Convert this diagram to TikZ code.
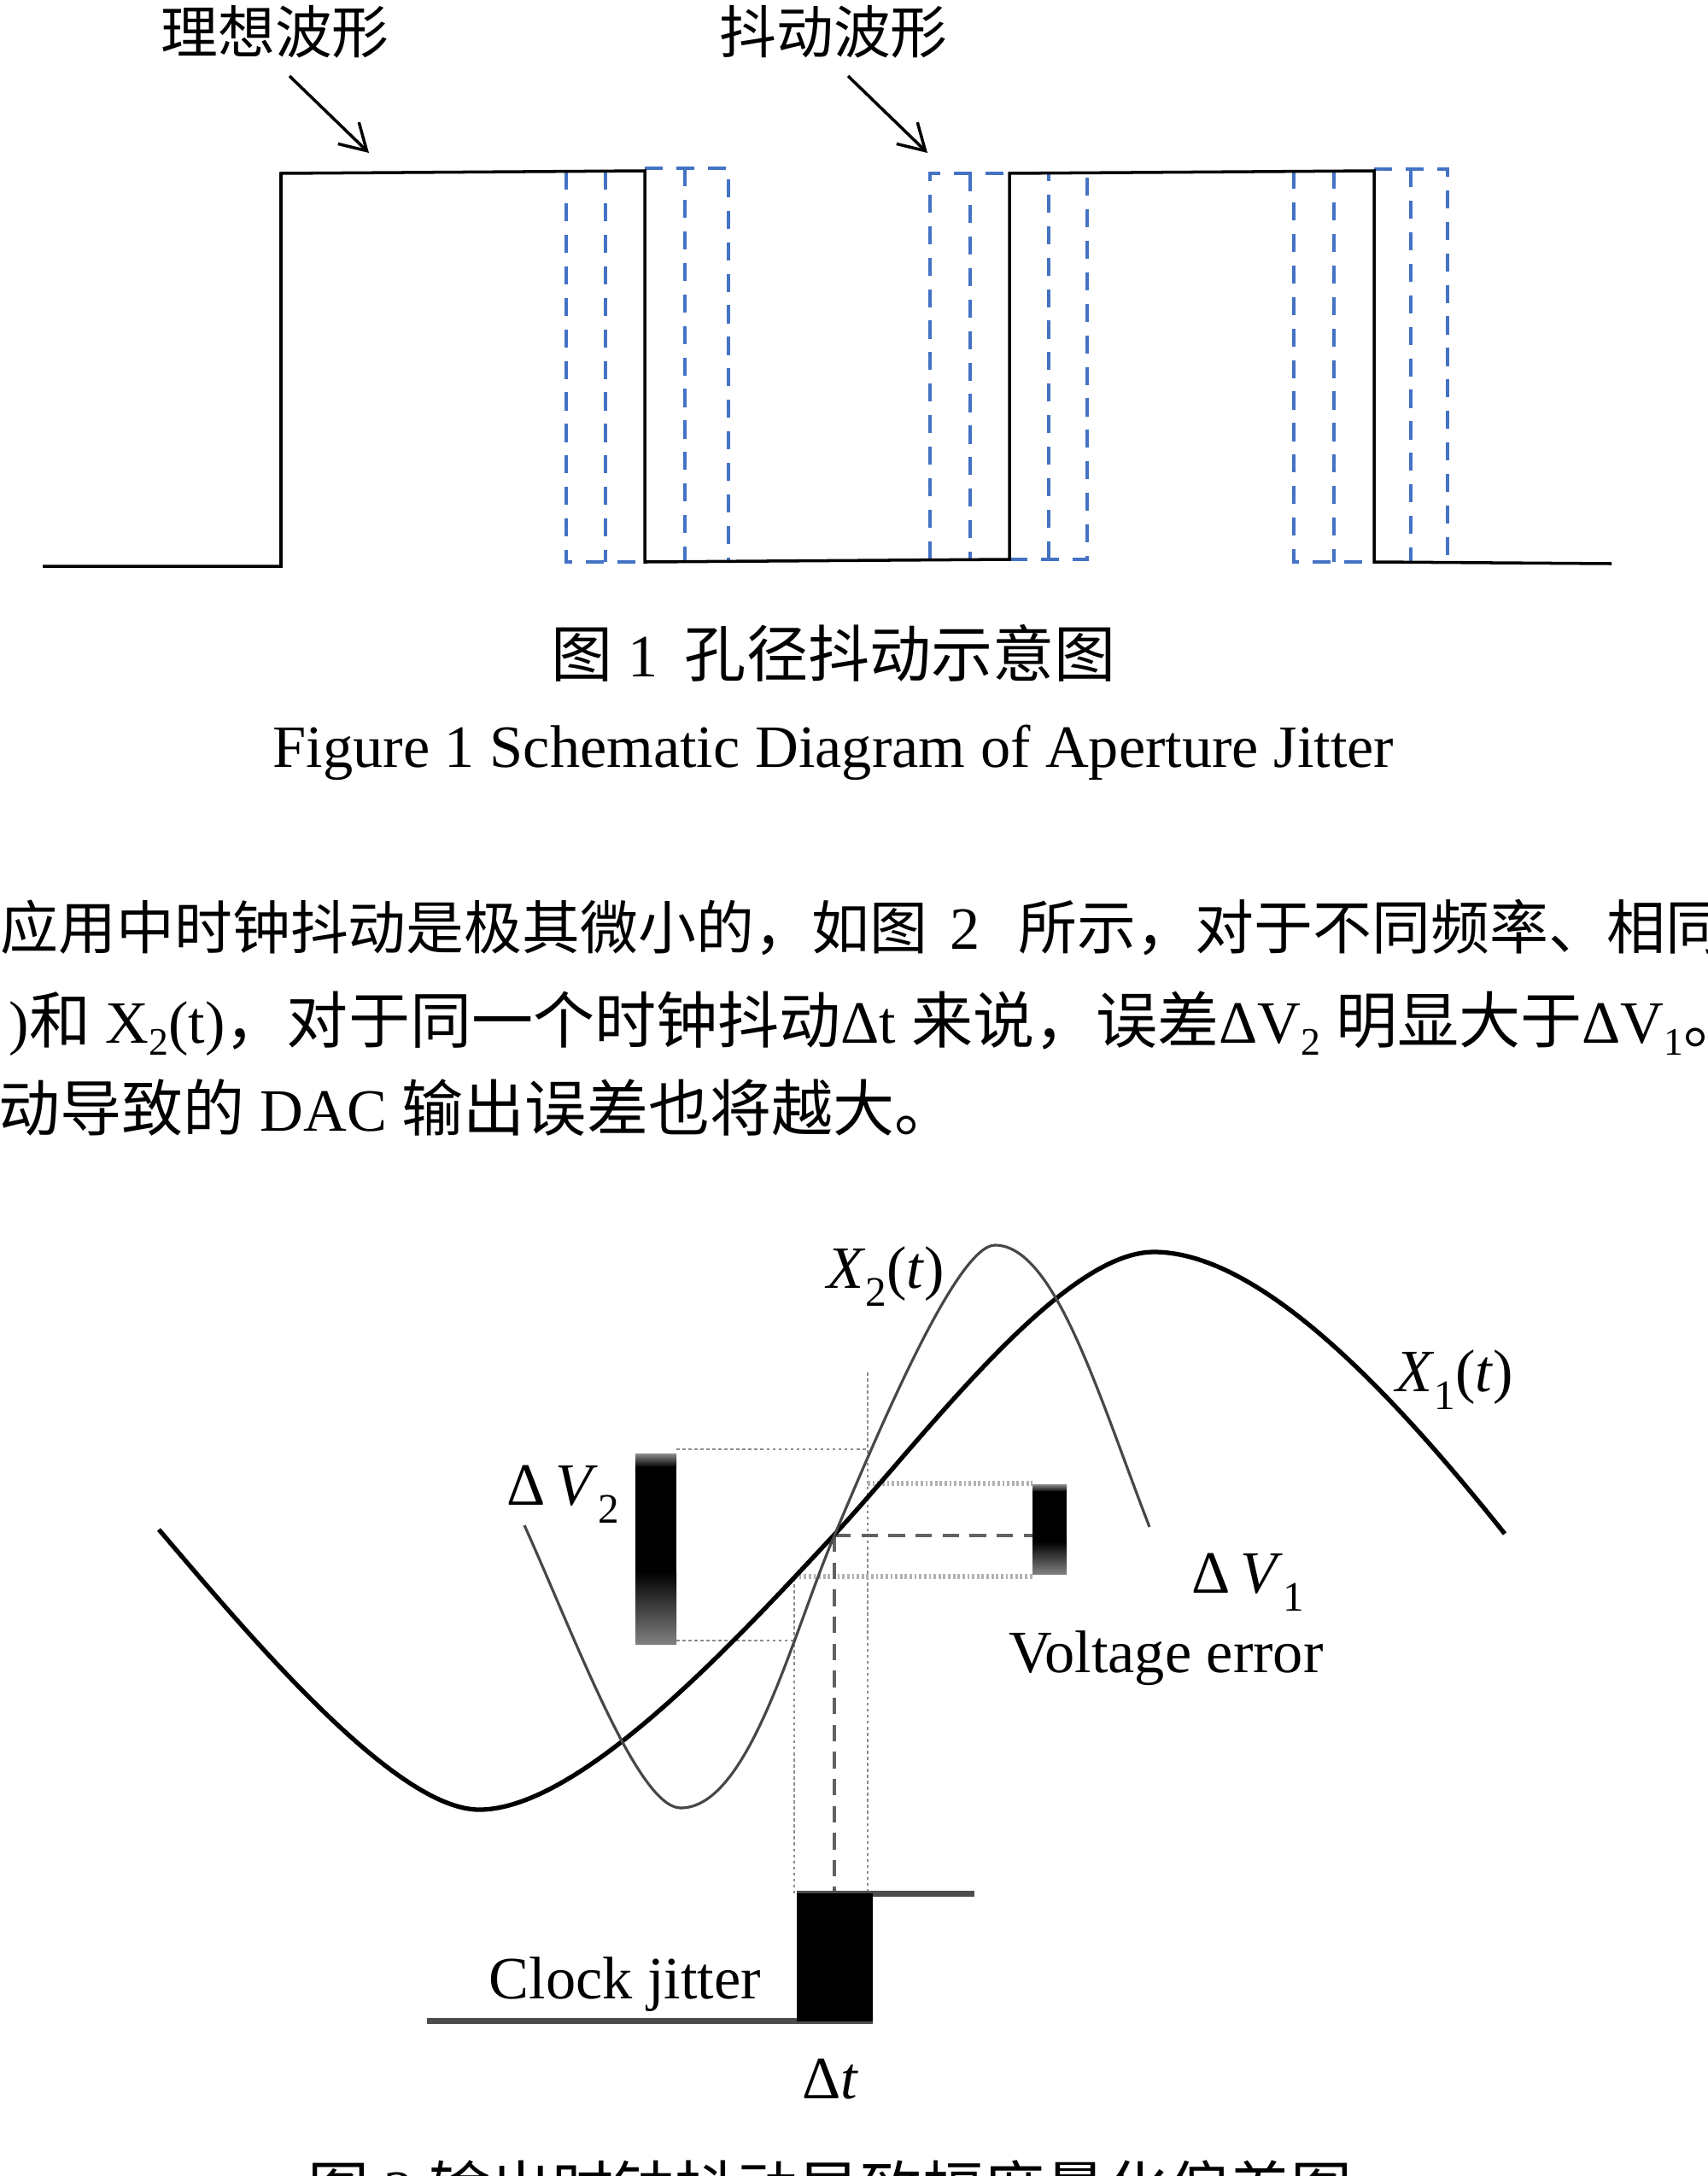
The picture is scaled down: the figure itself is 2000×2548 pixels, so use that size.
\documentclass[tikz,border=0pt]{standalone}
\usepackage{fontspec}
\setmainfont{Liberation Serif}
\newfontfamily\zhfont{Noto Sans CJK SC}
\usetikzlibrary{arrows.meta}
\definecolor{jblue}{RGB}{68,114,196}
\newcommand\zh{\zhfont\fontsize{20.5}{24}\selectfont}
\newcommand\zha{\zhfont\fontsize{19.3}{24}\selectfont}
\newcommand\zhb{\zhfont\fontsize{19.6}{24}\selectfont}
\newcommand\zhs{\zhfont\fontsize{19}{22}\selectfont}
\newcommand\sbs[1]{\raisebox{-4pt}{\fontsize{13}{13}\selectfont #1}}
\newcommand\lsb[1]{\raisebox{-6pt}{\fontsize{14}{14}\selectfont #1}}
\begin{document}
\begin{tikzpicture}[x=0.01cm,y=-0.01cm,
  wave/.style={line width=1pt, black},
  jit/.style={jblue, line width=0.9pt, dash pattern=on 6pt off 4.5pt},
  lbl/.style={inner sep=0pt, font=\fontsize{20}{24}\selectfont},
  x1curve/.style={line width=1.5pt, black},
  x2curve/.style={line width=0.9pt, black!72},
  thindot/.style={black!45, line width=0.6pt, dash pattern=on 1pt off 1pt},
  thickdot/.style={black!30, line width=1.5pt, dash pattern=on 0.8pt off 0.8pt},
  dashtwo/.style={black!62, line width=1.3pt, dash pattern=on 5.5pt off 3.5pt},
  clk/.style={black!70, line width=2pt},
  pointer/.style={line width=1pt, -{Straight Barb[length=8.5pt,width=10pt]}}
]
\clip (0,0) rectangle (2000,2548);
\fill[white] (0,0) rectangle (2000,2548);

% ---------- Figure 1: jitter groups ----------
\draw[jit] (663,201) -- (663,658) -- (755,658);
\draw[jit] (709,201) -- (709,658);
\draw[jit] (755,197) -- (853,197) -- (853,658);
\draw[jit] (802,197) -- (802,658);

\draw[jit] (1089,655) -- (1089,203) -- (1182,203);
\draw[jit] (1136,203) -- (1136,655);
\draw[jit] (1182,655) -- (1273,655) -- (1273,203);
\draw[jit] (1228,655) -- (1228,203);

\draw[jit] (1515,200) -- (1515,658) -- (1609,658);
\draw[jit] (1562,200) -- (1562,658);
\draw[jit] (1609,198) -- (1695,198) -- (1695,660);
\draw[jit] (1652,198) -- (1652,660);

% ideal waveform
\draw[wave] (50,663) -- (329,663) -- (329,203) -- (755,200) -- (755,658) -- (1182,655)
  -- (1182,203) -- (1609,200) -- (1609,658) -- (1887,660);

% labels and pointers
\node[lbl, anchor=base] (lab1) at (322,62) {\zhs 理想波形};
\node[lbl, anchor=base] (lab2) at (976,62) {\zhs 抖动波形};
\coordinate (a1s) at (339,89);  \coordinate (a1e) at (432,179);
\coordinate (a2s) at (993,89);  \coordinate (a2e) at (1086,179);
\draw[pointer] (a1s) -- (a1e);
\draw[pointer] (a2s) -- (a2e);

% captions
\node[lbl, anchor=base] (cap1) at (976,792) {{\zh 图} 1\hspace{9pt}{\zh 孔径抖动示意图}};
\node[lbl, anchor=base] (cap1en) at (976,898) {Figure 1 Schematic Diagram of Aperture Jitter};

% body text
\node[lbl, anchor=base west] (p1a) at (0,1111) {\zha 应用中时钟抖动是极其微小的，如图};
\node[lbl, anchor=base west] (p1b) at (1112,1111) {2};
\node[lbl, anchor=base west] (p1c) at (1192,1111) {\zhb 所示，对于不同频率、相同};
\node[lbl, anchor=base west] (p2) at (10,1221)
  {){\zh 和} X\sbs{2}(t){\zh ，对于同一个时钟抖动}Δt {\zh 来说，误差}ΔV\sbs{2} {\zh 明显大于}ΔV\sbs{1}{\zh 。}};
\node[lbl, anchor=base west] (p3) at (-2,1324) {{\zh 动导致的} DAC {\zh 输出误差也将越大。}};

% ---------- Figure 2 ----------
% guide lines
\draw[thindot] (792,1697) -- (1016,1697);
\draw[thindot] (792,1921) -- (930,1921);
\draw[thindot] (1016,1607) -- (1016,2217);
\draw[thindot] (930,1848) -- (930,2217);
\draw[thickdot] (1016,1737) -- (1209,1737);
\draw[thickdot] (930,1846) -- (1209,1846);
\draw[dashtwo] (977,1798) -- (1209,1798);
\draw[dashtwo] (977,1798) -- (977,2217);

% X1(t)
\draw[x1curve] (186,1791) .. controls (286,1908) and (461,2119) .. (561,2119)
  .. controls (681,2119) and (866,1916) .. (976,1798)
  .. controls (1076,1691) and (1241,1466) .. (1351,1466)
  .. controls (1481,1466) and (1642,1646) .. (1762,1796);

% X2(t)
\draw[x2curve] (614,1786) .. controls (674,1919) and (747,2117) .. (797,2117)
  .. controls (877,2117) and (927,1916) .. (977,1798)
  .. controls (1027,1680) and (1120,1458) .. (1165,1458)
  .. controls (1235,1458) and (1286,1633) .. (1346,1788);

% error bars
\shade[top color=black!45, bottom color=black] (744,1702) rectangle (792,1718);
\fill[black] (744,1717) rectangle (792,1841);
\shade[top color=black, bottom color=black!50] (744,1840) rectangle (792,1925);

\shade[top color=black!45, bottom color=black] (1209,1738) rectangle (1249,1747);
\fill[black] (1209,1746) rectangle (1249,1806);
\shade[top color=black, bottom color=black!50] (1209,1805) rectangle (1249,1843);

% clock jitter
\draw[clk] (500,2366) -- (1022,2366);
\draw[clk] (933,2217) -- (1141,2217);
\fill[black] (933,2217) rectangle (1022,2367);

% labels
\node[lbl, anchor=base west] (lx2) at (968,1508) {\textit{X}\lsb{2}(\textit{t})};
\node[lbl, anchor=base west] (lx1) at (1634,1629) {\textit{X}\lsb{1}(\textit{t})};
\node[lbl, anchor=base west] (ldv2) at (593,1762) {Δ\,\textit{V}\lsb{2}};
\node[lbl, anchor=base west] (ldv1) at (1395,1865) {Δ\,\textit{V}\lsb{1}};
\node[lbl, anchor=base west] (lve) at (1181,1958) {Voltage error};
\node[lbl, anchor=base west] (lcj) at (572,2340) {Clock jitter};
\node[lbl, anchor=base west] (ldt) at (939,2457) {Δ\textit{t}};

% caption 2 (cut by the page edge)
\node[lbl, anchor=base] (cap2) at (972,2590) {{\zh 图} 2 {\zh 输出时钟抖动导致幅度量化偏差图}};
\end{tikzpicture}
\end{document}
